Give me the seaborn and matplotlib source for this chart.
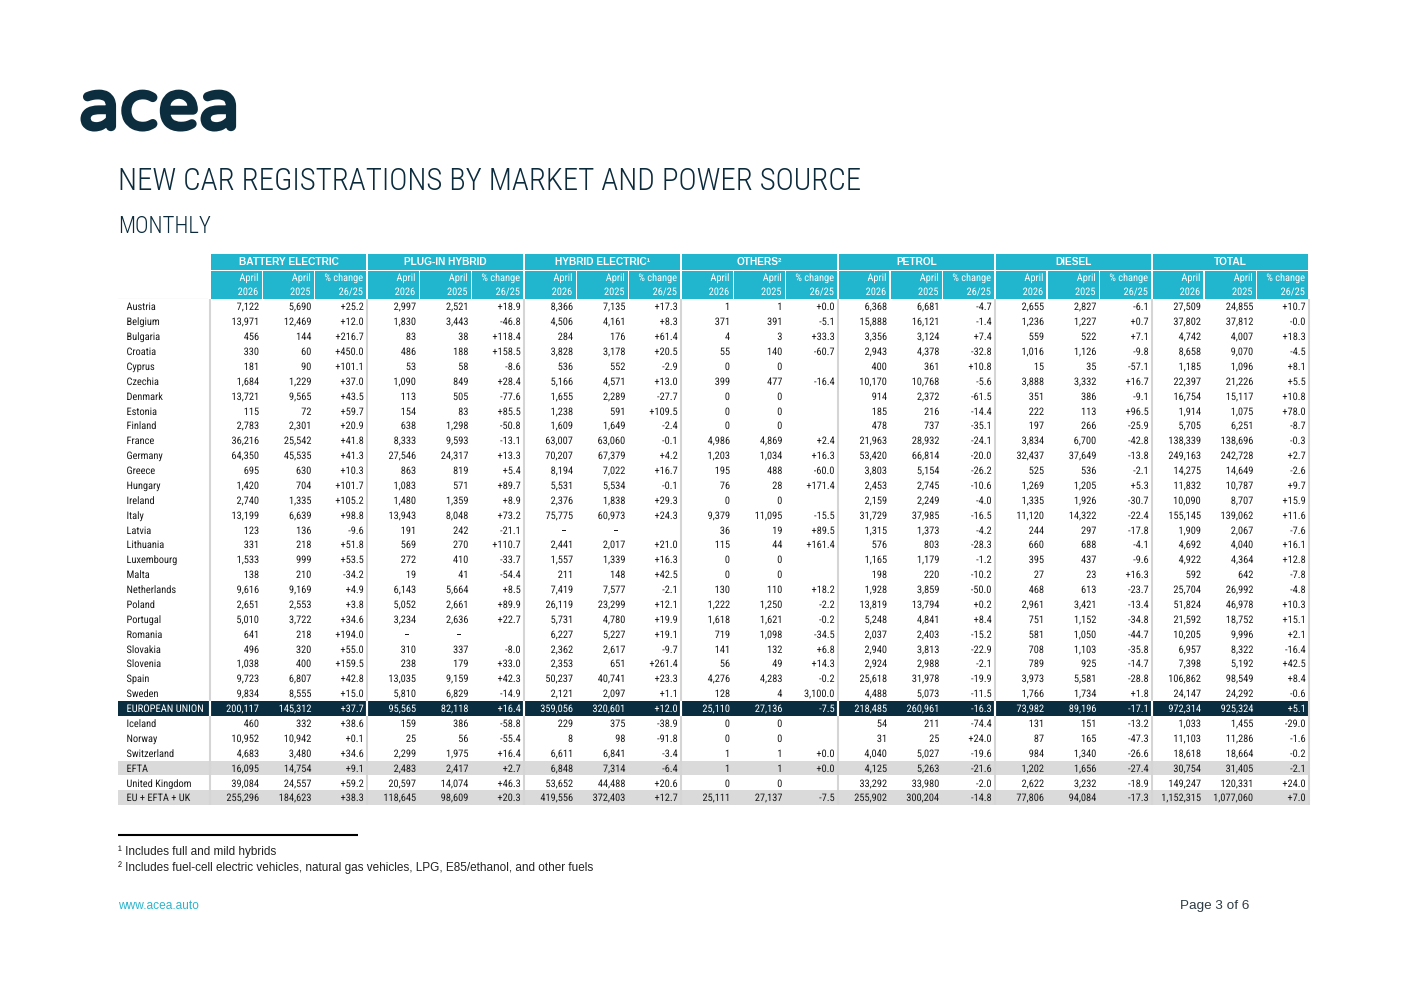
import numpy as np
import matplotlib
matplotlib.use("Agg")
import matplotlib.pyplot as plt
from matplotlib import font_manager as fm
from matplotlib import patheffects as pe
from matplotlib.colors import ListedColormap
from matplotlib.patches import Rectangle
import seaborn as sns

# ---------------- data ----------------
countries = ["Austria", "Belgium", "Bulgaria", "Croatia", "Cyprus", "Czechia", "Denmark",
             "Estonia", "Finland", "France", "Germany", "Greece", "Hungary", "Ireland",
             "Italy", "Latvia", "Lithuania", "Luxembourg", "Malta", "Netherlands", "Poland",
             "Portugal", "Romania", "Slovakia", "Slovenia", "Spain", "Sweden",
             "EUROPEAN UNION", "Iceland", "Norway", "Switzerland", "EFTA",
             "United Kingdom", "EU + EFTA + UK"]

groups = ["BATTERY ELECTRIC", "PLUG-IN HYBRID", "HYBRID ELECTRIC\u00b9", "OTHERS\u00b2",
          "PETROL", "DIESEL", "TOTAL"]
sub_top = ["April", "April", "% change"]
sub_bot = ["2026", "2025", "26/25"]

bev_26 = [7122, 13971, 456, 330, 181, 1684, 13721, 115, 2783, 36216, 64350, 695, 1420, 2740,
          13199, 123, 331, 1533, 138, 9616, 2651, 5010, 641, 496, 1038, 9723, 9834, 200117,
          460, 10952, 4683, 16095, 39084, 255296]
bev_25 = [5690, 12469, 144, 60, 90, 1229, 9565, 72, 2301, 25542, 45535, 630, 704, 1335, 6639,
          136, 218, 999, 210, 9169, 2553, 3722, 218, 320, 400, 6807, 8555, 145312, 332, 10942,
          3480, 14754, 24557, 184623]
bev_pct = [25.2, 12.0, 216.7, 450.0, 101.1, 37.0, 43.5, 59.7, 20.9, 41.8, 41.3, 10.3, 101.7,
           105.2, 98.8, -9.6, 51.8, 53.5, -34.2, 4.9, 3.8, 34.6, 194.0, 55.0, 159.5, 42.8, 15.0,
           37.7, 38.6, 0.1, 34.6, 9.1, 59.2, 38.3]

phev_26 = [2997, 1830, 83, 486, 53, 1090, 113, 154, 638, 8333, 27546, 863, 1083, 1480, 13943,
           191, 569, 272, 19, 6143, 5052, 3234, None, 310, 238, 13035, 5810, 95565, 159, 25,
           2299, 2483, 20597, 118645]
phev_25 = [2521, 3443, 38, 188, 58, 849, 505, 83, 1298, 9593, 24317, 819, 571, 1359, 8048, 242,
           270, 410, 41, 5664, 2661, 2636, None, 337, 179, 9159, 6829, 82118, 386, 56, 1975,
           2417, 14074, 98609]
phev_pct = [18.9, -46.8, 118.4, 158.5, -8.6, 28.4, -77.6, 85.5, -50.8, -13.1, 13.3, 5.4, 89.7,
            8.9, 73.2, -21.1, 110.7, -33.7, -54.4, 8.5, 89.9, 22.7, None, -8.0, 33.0, 42.3,
            -14.9, 16.4, -58.8, -55.4, 16.4, 2.7, 46.3, 20.3]

hev_26 = [8366, 4506, 284, 3828, 536, 5166, 1655, 1238, 1609, 63007, 70207, 8194, 5531, 2376,
          75775, None, 2441, 1557, 211, 7419, 26119, 5731, 6227, 2362, 2353, 50237, 2121,
          359056, 229, 8, 6611, 6848, 53652, 419556]
hev_25 = [7135, 4161, 176, 3178, 552, 4571, 2289, 591, 1649, 63060, 67379, 7022, 5534, 1838,
          60973, None, 2017, 1339, 148, 7577, 23299, 4780, 5227, 2617, 651, 40741, 2097,
          320601, 375, 98, 6841, 7314, 44488, 372403]
hev_pct = [17.3, 8.3, 61.4, 20.5, -2.9, 13.0, -27.7, 109.5, -2.4, -0.1, 4.2, 16.7, -0.1, 29.3,
           24.3, None, 21.0, 16.3, 42.5, -2.1, 12.1, 19.9, 19.1, -9.7, 261.4, 23.3, 1.1, 12.0,
           -38.9, -91.8, -3.4, -6.4, 20.6, 12.7]

oth_26 = [1, 371, 4, 55, 0, 399, 0, 0, 0, 4986, 1203, 195, 76, 0, 9379, 36, 115, 0, 0, 130,
          1222, 1618, 719, 141, 56, 4276, 128, 25110, 0, 0, 1, 1, 0, 25111]
oth_25 = [1, 391, 3, 140, 0, 477, 0, 0, 0, 4869, 1034, 488, 28, 0, 11095, 19, 44, 0, 0, 110,
          1250, 1621, 1098, 132, 49, 4283, 4, 27136, 0, 0, 1, 1, 0, 27137]
oth_pct = [0.0, -5.1, 33.3, -60.7, None, -16.4, None, None, None, 2.4, 16.3, -60.0, 171.4, None,
           -15.5, 89.5, 161.4, None, None, 18.2, -2.2, -0.2, -34.5, 6.8, 14.3, -0.2, 3100.0,
           -7.5, None, None, 0.0, 0.0, None, -7.5]

pet_26 = [6368, 15888, 3356, 2943, 400, 10170, 914, 185, 478, 21963, 53420, 3803, 2453, 2159,
          31729, 1315, 576, 1165, 198, 1928, 13819, 5248, 2037, 2940, 2924, 25618, 4488,
          218485, 54, 31, 4040, 4125, 33292, 255902]
pet_25 = [6681, 16121, 3124, 4378, 361, 10768, 2372, 216, 737, 28932, 66814, 5154, 2745, 2249,
          37985, 1373, 803, 1179, 220, 3859, 13794, 4841, 2403, 3813, 2988, 31978, 5073,
          260961, 211, 25, 5027, 5263, 33980, 300204]
pet_pct = [-4.7, -1.4, 7.4, -32.8, 10.8, -5.6, -61.5, -14.4, -35.1, -24.1, -20.0, -26.2, -10.6,
           -4.0, -16.5, -4.2, -28.3, -1.2, -10.2, -50.0, 0.2, 8.4, -15.2, -22.9, -2.1, -19.9,
           -11.5, -16.3, -74.4, 24.0, -19.6, -21.6, -2.0, -14.8]

dsl_26 = [2655, 1236, 559, 1016, 15, 3888, 351, 222, 197, 3834, 32437, 525, 1269, 1335, 11120,
          244, 660, 395, 27, 468, 2961, 751, 581, 708, 789, 3973, 1766, 73982, 131, 87, 984,
          1202, 2622, 77806]
dsl_25 = [2827, 1227, 522, 1126, 35, 3332, 386, 113, 266, 6700, 37649, 536, 1205, 1926, 14322,
          297, 688, 437, 23, 613, 3421, 1152, 1050, 1103, 925, 5581, 1734, 89196, 151, 165,
          1340, 1656, 3232, 94084]
dsl_pct = [-6.1, 0.7, 7.1, -9.8, -57.1, 16.7, -9.1, 96.5, -25.9, -42.8, -13.8, -2.1, 5.3, -30.7,
           -22.4, -17.8, -4.1, -9.6, 16.3, -23.7, -13.4, -34.8, -44.7, -35.8, -14.7, -28.8, 1.8,
           -17.1, -13.2, -47.3, -26.6, -27.4, -18.9, -17.3]

tot_26 = [27509, 37802, 4742, 8658, 1185, 22397, 16754, 1914, 5705, 138339, 249163, 14275,
          11832, 10090, 155145, 1909, 4692, 4922, 592, 25704, 51824, 21592, 10205, 6957, 7398,
          106862, 24147, 972314, 1033, 11103, 18618, 30754, 149247, 1152315]
tot_25 = [24855, 37812, 4007, 9070, 1096, 21226, 15117, 1075, 6251, 138696, 242728, 14649,
          10787, 8707, 139062, 2067, 4040, 4364, 642, 26992, 46978, 18752, 9996, 8322, 5192,
          98549, 24292, 925324, 1455, 11286, 18664, 31405, 120331, 1077060]
tot_pct = [10.7, -0.0, 18.3, -4.5, 8.1, 5.5, 10.8, 78.0, -8.7, -0.3, 2.7, -2.6, 9.7, 15.9, 11.6,
           -7.6, 16.1, 12.8, -7.8, -4.8, 10.3, 15.1, 2.1, -16.4, 42.5, 8.4, -0.6, 5.1, -29.0,
           -1.6, -0.2, -2.1, 24.0, 7.0]

footnotes = ["\u00b9 Includes full and mild hybrids",
             "\u00b2 Includes fuel-cell electric vehicles, natural gas vehicles, LPG, E85/ethanol, and other fuels"]
title = "NEW CAR REGISTRATIONS BY MARKET AND POWER SOURCE"
subtitle = "MONTHLY"

columns = [bev_26, bev_25, bev_pct, phev_26, phev_25, phev_pct, hev_26, hev_25, hev_pct,
           oth_26, oth_25, oth_pct, pet_26, pet_25, pet_pct, dsl_26, dsl_25, dsl_pct,
           tot_26, tot_25, tot_pct]

# ---------------- style ----------------
sns.set_theme(style="white")
avail = {f.name for f in fm.fontManager.ttflist}


def pick(cands):
    for c in cands:
        if c in avail:
            return c
    return "Liberation Sans"


REG = "Liberation Sans"
COND = pick(["Arial Narrow", "Liberation Sans Narrow", "Roboto Condensed", "Archivo Narrow",
             "PT Sans Narrow", "IBM Plex Sans Condensed", "Open Sans Condensed"])
TFONT = pick(["Roboto Condensed", "IBM Plex Sans Condensed", "Open Sans Condensed", COND])
LOGOF = pick(["Varela Round", "M PLUS Rounded 1c", "Nunito", "Quicksand", REG])
plt.rcParams["font.family"] = [REG, "DejaVu Sans"]

CYAN = "#21B5CE"
NAVY = "#0A2D3F"
LOGO_NAVY = "#0C2D3E"
GRAY = "#DADADA"
SEP = "#D5D5D5"
TXT = "#1A1A1A"
ASPATH = [pe.Normal()]   # draw cell text as paths: sub-pixel accurate, common baseline

W, H = 1403, 992
fig = plt.figure(figsize=(W / 100, H / 100), dpi=100)
fig.patch.set_facecolor("white")


def frac(x0, y0, x1, y1):
    return [x0 / W, 1 - y1 / H, (x1 - x0) / W, (y1 - y0) / H]


pax = fig.add_axes([0, 0, 1, 1])
pax.set_xlim(0, W)
pax.set_ylim(H, 0)
pax.axis("off")
renderer = fig.canvas.get_renderer()


def fit(s, target, **kw):
    t = pax.text(0, 0, s, fontsize=10, **kw)
    w = t.get_window_extent(renderer).width
    t.remove()
    return 10 * target / w


NUM_FS = fit("7,122", 22.3, family=[COND, REG])
TITLE_FS = fit(title, 742, family=[TFONT, REG], weight="light")
SUB_FS = TITLE_FS * 0.74
GRP_FS = min(fit("BATTERY ELECTRIC", 100, family=REG, weight="bold"), 7.8)
EU_FS = min(fit("EUROPEAN UNION", 77, family=[COND, REG]), NUM_FS * 1.12)
LOGO_FS = fit("acea", 160, family=[LOGOF, REG])

# layout
LBL_X0, DATA_X0, COL_W = 118.0, 210.0, 52.33
NCOL, NROW = len(columns), len(countries)
DATA_X1 = DATA_X0 + NCOL * COL_W
ROW_Y0, ROW_H = 299.3, 14.88
ROW_Y1 = ROW_Y0 + NROW * ROW_H
PAD_PX = 3.2

# ---------------- logo / titles ----------------
pax.text(79, 129, "acea", family=[LOGOF, REG], fontsize=LOGO_FS, color=LOGO_NAVY,
         ha="left", va="baseline",
         path_effects=[pe.withStroke(linewidth=2.6, foreground=LOGO_NAVY)])
pax.text(118, 190, title, family=[TFONT, REG], fontsize=TITLE_FS, weight="light",
         color="#0B2B3C", ha="left", va="baseline")
pax.text(118, 233, subtitle, family=[TFONT, REG], fontsize=SUB_FS, weight="light",
         color="#0B2B3C", ha="left", va="baseline")

# ---------------- header ----------------
for g, name in enumerate(groups):
    gx0 = DATA_X0 + g * 3 * COL_W
    gx1 = gx0 + 3 * COL_W
    pax.add_patch(Rectangle((gx0 + 1.3, 254), gx1 - gx0 - 2.6, 15.5, facecolor=CYAN,
                            edgecolor="none"))
    pax.text((gx0 + gx1) / 2, 265, name, family=REG, weight="bold", fontsize=GRP_FS,
             color="white", ha="center", va="baseline")
    for k in range(3):
        cx0 = gx0 + k * COL_W
        cx1 = cx0 + COL_W
        l = cx0 + (1.3 if k == 0 else 0.8)
        r = cx1 - (1.3 if k == 2 else 0.8)
        pax.add_patch(Rectangle((l, 271), r - l, 28.3, facecolor=CYAN, edgecolor="none"))
        pax.text(cx1 - PAD_PX - 0.8, 281, sub_top[k], family=[COND, REG], fontsize=NUM_FS,
                 color="white", ha="right", va="baseline", path_effects=ASPATH)
        pax.text(cx1 - PAD_PX - 0.8, 295, sub_bot[k], family=[COND, REG], fontsize=NUM_FS,
                 color="white", ha="right", va="baseline", path_effects=ASPATH)

pax.plot([118, 208], [300, 300], color=SEP, lw=1.6, solid_capstyle="butt")

# ---------------- body backgrounds via seaborn heatmaps ----------------
style = np.array([1 if c == "EUROPEAN UNION" else 2 if c in ("EFTA", "EU + EFTA + UK") else 0
                  for c in countries])
cmap = ListedColormap(["white", NAVY, GRAY])

ax_l = fig.add_axes(frac(LBL_X0, ROW_Y0, DATA_X0, ROW_Y1))
sns.heatmap(style[:, None], ax=ax_l, cmap=cmap, vmin=-0.5, vmax=2.5, cbar=False,
            xticklabels=False, yticklabels=False, linewidths=0)
ax_d = fig.add_axes(frac(DATA_X0, ROW_Y0, DATA_X1, ROW_Y1))
sns.heatmap(np.repeat(style[:, None], NCOL, axis=1), ax=ax_d, cmap=cmap, vmin=-0.5,
            vmax=2.5, cbar=False, xticklabels=False, yticklabels=False, linewidths=0)
for a in (ax_l, ax_d):
    a.set_xlabel("")
    a.set_ylabel("")
    a.tick_params(length=0)

# separators
bounds = np.arange(0, NCOL + 1, 3)
ax_d.vlines(bounds, 0, NROW, colors=SEP, lw=1.5, clip_on=False, zorder=3)
eu = int(np.where(style == 1)[0][0])
ax_d.vlines(bounds[:-1], eu, eu + 1, colors="white", lw=1.5, clip_on=False, zorder=4)

# text
pad = PAD_PX / COL_W


def row_base(i):
    pix = round(ROW_Y0 + (i + 0.5) * ROW_H + 3.6)
    return (pix - ROW_Y0) / ROW_H


def fmt_n(v):
    return "\u2013" if v is None else f"{v:,}"


def fmt_p(v):
    if v is None:
        return ""
    return f"{v:,.1f}" if abs(v) >= 1000 else f"{v:+.1f}"


for i, c in enumerate(countries):
    col = "white" if style[i] == 1 else TXT
    yb = row_base(i)
    ax_l.text(8.5 / (DATA_X0 - LBL_X0), yb, c, family=[COND, REG],
              fontsize=EU_FS if style[i] == 1 else NUM_FS, color=col, ha="left",
              va="baseline", path_effects=ASPATH)
    for j, vals in enumerate(columns):
        v = vals[i]
        s = fmt_p(v) if j % 3 == 2 else fmt_n(v)
        x = j + 1 - pad - (0.12 if (v is None and j % 3 != 2) else 0)
        ax_d.text(x, yb, s, family=[COND, REG], fontsize=NUM_FS,
                  color=col, ha="right", va="baseline", path_effects=ASPATH)

# ---------------- footnotes ----------------
pax.plot([118, 358], [835, 835], color="black", lw=1.5, solid_capstyle="butt")
pax.text(118, 855, footnotes[0], family=REG, fontsize=8.5, color="#222222", ha="left",
         va="baseline")
pax.text(118, 871, footnotes[1], family=REG, fontsize=8.5, color="#222222", ha="left",
         va="baseline")
pax.text(118, 909, "www.acea.auto", family=REG, fontsize=8.6, color="#2BB5CC", ha="left",
         va="baseline")
pax.text(1249, 909, "Page 3 of 6", family=REG, fontsize=9.7, color="#2E3B44", ha="right",
         va="baseline")

fig.savefig("out.png", dpi=100, facecolor="white")
